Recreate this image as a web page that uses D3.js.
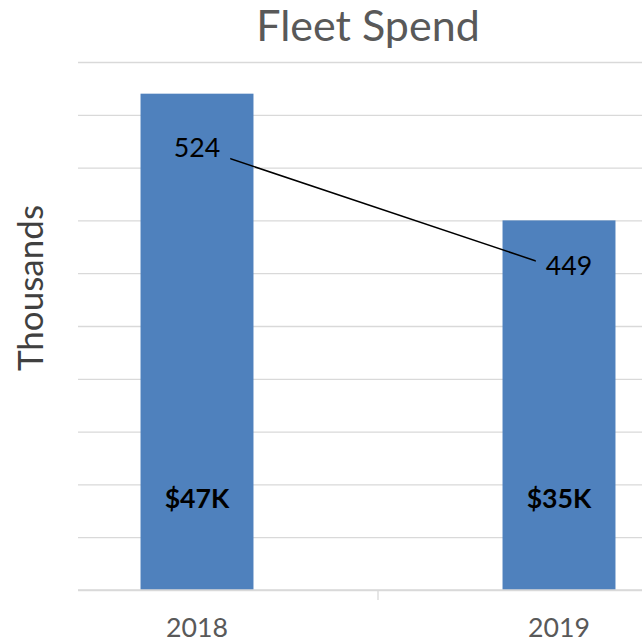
<!DOCTYPE html>
<html>
<head>
<meta charset="utf-8">
<script src="https://cdn.jsdelivr.net/npm/d3@7"></script>
<style>
  html, body { margin: 0; padding: 0; background: #ffffff; }
  svg { display: block; font-family: "Lato", "Open Sans", sans-serif; }
</style>
</head>
<body>
<svg id="chart" width="642" height="644"></svg>
<script>
// Chart data
const years = ["2018", "2019"];
const spend = [47, 35];            // fleet spend, thousands of dollars
const spendLabels = ["$47K", "$35K"];
const units = [524, 449];          // secondary series
const spendTicks = d3.range(0, 51, 5);

const svg = d3.select("#chart");
const W = 642, H = 644;

// Layout
const plot = { left: 78, right: 642, top: 62, bottom: 590 };

const x = d3.scaleBand().domain(years).range([16, 740]).padding(0);
const barW = x.bandwidth() * 0.312;
const y = d3.scaleLinear().domain([0, 50]).range([plot.bottom, plot.top]);
const y2 = d3.scaleLinear().domain([250, 577]).range([plot.bottom, plot.top]);

// Gridlines
const grid = svg.append("g")
  .attr("transform", `translate(${plot.left},0)`)
  .call(d3.axisLeft(y).tickValues(spendTicks).tickSize(-(plot.right - plot.left)).tickFormat(""));
grid.select(".domain").remove();
grid.selectAll(".tick line").attr("stroke", "#d9d9d9").attr("stroke-width", 1.3);

// Bars
svg.append("g").selectAll("rect")
  .data(years)
  .join("rect")
  .attr("x", (d) => x(d) + (x.bandwidth() - barW) / 2)
  .attr("width", barW)
  .attr("y", (d, i) => y(spend[i]))
  .attr("height", (d, i) => y(0) - y(spend[i]))
  .attr("fill", "#4f81bd");

// Bar value labels
svg.append("g").selectAll("text")
  .data(years)
  .join("text")
  .attr("x", (d) => x(d) + x.bandwidth() / 2)
  .attr("y", y(0) - 82)
  .attr("text-anchor", "middle")
  .attr("font-size", 26.7)
  .attr("font-weight", 700)
  .attr("fill", "#000")
  .text((d, i) => spendLabels[i]);

// X axis
const xAxis = svg.append("g")
  .attr("transform", `translate(0,${plot.bottom})`);
xAxis.append("line")
  .attr("x1", plot.left).attr("x2", plot.right)
  .attr("stroke", "#d9d9d9").attr("stroke-width", 1.3);
xAxis.selectAll("line.sep")
  .data(years.slice(1))
  .join("line")
  .attr("class", "sep")
  .attr("x1", (d) => x(d)).attr("x2", (d) => x(d))
  .attr("y1", 0).attr("y2", 10)
  .attr("stroke", "#d9d9d9").attr("stroke-width", 1.3);
xAxis.selectAll("text")
  .data(years)
  .join("text")
  .attr("x", (d) => x(d) + x.bandwidth() / 2)
  .attr("y", 47)
  .attr("text-anchor", "middle")
  .attr("font-size", 26.7)
  .attr("fill", "#595959")
  .text((d) => d);

// Line series; its labels knock out the line beneath them
const pts = years.map((d, i) => [x(d) + x.bandwidth() / 2, y2(units[i])]);
const labelShift = [[0, 0], [10, -3]];

const lineG = svg.append("g");
const labels = svg.append("g").selectAll("text")
  .data(units)
  .join("text")
  .attr("x", (d, i) => pts[i][0] + labelShift[i][0])
  .attr("y", (d, i) => pts[i][1] + 9.5 + labelShift[i][1])
  .attr("text-anchor", "middle")
  .attr("font-size", 26.7)
  .attr("fill", "#000")
  .text((d) => d);

const mask = svg.append("defs").append("mask")
  .attr("id", "lineMask")
  .attr("maskUnits", "userSpaceOnUse")
  .attr("x", 0).attr("y", 0).attr("width", W).attr("height", H);
mask.append("rect").attr("width", W).attr("height", H).attr("fill", "#fff");
labels.each(function () {
  const b = this.getBBox();
  mask.append("rect")
    .attr("x", b.x - 10).attr("y", b.y)
    .attr("width", b.width + 20).attr("height", b.height)
    .attr("fill", "#000");
});

lineG.append("path")
  .datum(pts)
  .attr("d", d3.line())
  .attr("fill", "none")
  .attr("stroke", "#000")
  .attr("stroke-width", 1.5)
  .attr("mask", "url(#lineMask)");

// Title
svg.append("text")
  .attr("x", 368)
  .attr("y", 41)
  .attr("text-anchor", "middle")
  .attr("font-size", 43)
  .attr("font-weight", 400)
  .attr("fill", "#595959")
  .text("Fleet Spend");

// Y axis title
svg.append("text")
  .attr("transform", "translate(43,288) rotate(-90)")
  .attr("text-anchor", "middle")
  .attr("font-size", 35)
  .attr("fill", "#404040")
  .text("Thousands");
</script>
</body>
</html>
